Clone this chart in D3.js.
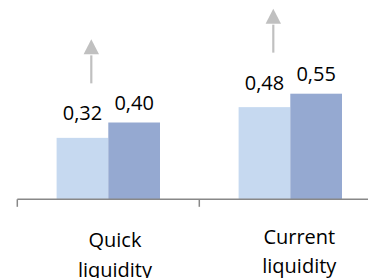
<!DOCTYPE html>
<html><head><meta charset="utf-8">
<script src="https://cdn.jsdelivr.net/npm/d3@7"></script>
<style>html,body{margin:0;padding:0;background:#fff;}svg{display:block;font-family:"Open Sans",sans-serif;}</style>
</head><body>
<script>
const categories = ["Quick liquidity", "Current liquidity"];
const series = ["Previous", "Current"];
const valuesPrev = [0.32, 0.48];
const valuesCurr = [0.40, 0.55];
const valueLabels = [["0,32", "0,40"], ["0,48", "0,55"]];
const catLines = [["Quick", "liquidity"], ["Current", "liquidity"]];
const colors = ["#c6d9f0", "#95a9d1"];

const W = 368, H = 278;
const svg = d3.select("body").append("svg").attr("width", W).attr("height", H);

const baseY = 199.3;
const x0 = d3.scaleBand().domain(categories).range([17.3, 381.3]).paddingInner(0).paddingOuter(0);
const y = d3.scaleLinear().domain([0, 1]).range([baseY, baseY - 192]);
const barW = 51.7;
const x1 = d3.scaleBand().domain(series).range([x0.bandwidth()/2 - barW, x0.bandwidth()/2 + barW]);

const data = categories.map((c, i) => ({cat: c, vals: [valuesPrev[i], valuesCurr[i]], labels: valueLabels[i], lines: catLines[i], i}));

const g = svg.selectAll("g.cat").data(data).join("g").attr("class", "cat")
  .attr("transform", d => `translate(${x0(d.cat)},0)`);

g.selectAll("rect").data(d => d.vals.map((v, j) => ({v, j, s: series[j]}))).join("rect")
  .attr("x", d => x1(d.s)).attr("width", x1.bandwidth())
  .attr("y", d => y(d.v)).attr("height", d => y(0) - y(d.v))
  .attr("fill", d => colors[d.j]);

const labelGap = [17.5, 13];
g.selectAll("text.val").data(d => d.vals.map((v, j) => ({v, j, s: series[j], t: d.labels[j]}))).join("text")
  .attr("class", "val")
  .attr("x", d => x1(d.s) + x1.bandwidth()/2)
  .attr("y", d => y(d.v) - labelGap[d.j])
  .attr("text-anchor", "middle").attr("font-size", 20).attr("fill", "#000")
  .text(d => d.t);

// arrows
g.each(function(d) {
  const sel = d3.select(this);
  const ax = 74;
  const bottom = y(d.vals[0]) - 54.5;
  const headBase = bottom - 29;
  const top = bottom - 44;
  sel.append("line").attr("x1", ax).attr("x2", ax).attr("y1", bottom).attr("y2", headBase + 1)
    .attr("stroke", "#c0c0c0").attr("stroke-width", 2.2);
  sel.append("path").attr("d", `M${ax-7.7},${headBase} L${ax+7.7},${headBase} L${ax},${top} Z`).attr("fill", "#c0c0c0");
});

// axis
const axisG = svg.append("g");
axisG.append("line").attr("x1", 17.3).attr("x2", W).attr("y1", baseY).attr("y2", baseY)
  .attr("stroke", "#888").attr("stroke-width", 1.5);
axisG.selectAll("line.tick").data(categories).join("line").attr("class", "tick")
  .attr("x1", d => x0(d)).attr("x2", d => x0(d)).attr("y1", baseY).attr("y2", baseY + 7.5)
  .attr("stroke", "#888").attr("stroke-width", 1.5);

const catShiftX = [6.7, 9];
const catBaseY = [247.3, 243.5];
g.selectAll("text.cat").data(d => d.lines.map((t, k) => ({t, k, i: d.i}))).join("text")
  .attr("class", "cat")
  .attr("x", d => x0.bandwidth()/2 + catShiftX[d.i])
  .attr("y", d => catBaseY[d.i] + d.k * 29.5)
  .attr("text-anchor", "middle").attr("font-size", 20).attr("fill", "#000")
  .text(d => d.t);
</script>
</body></html>
